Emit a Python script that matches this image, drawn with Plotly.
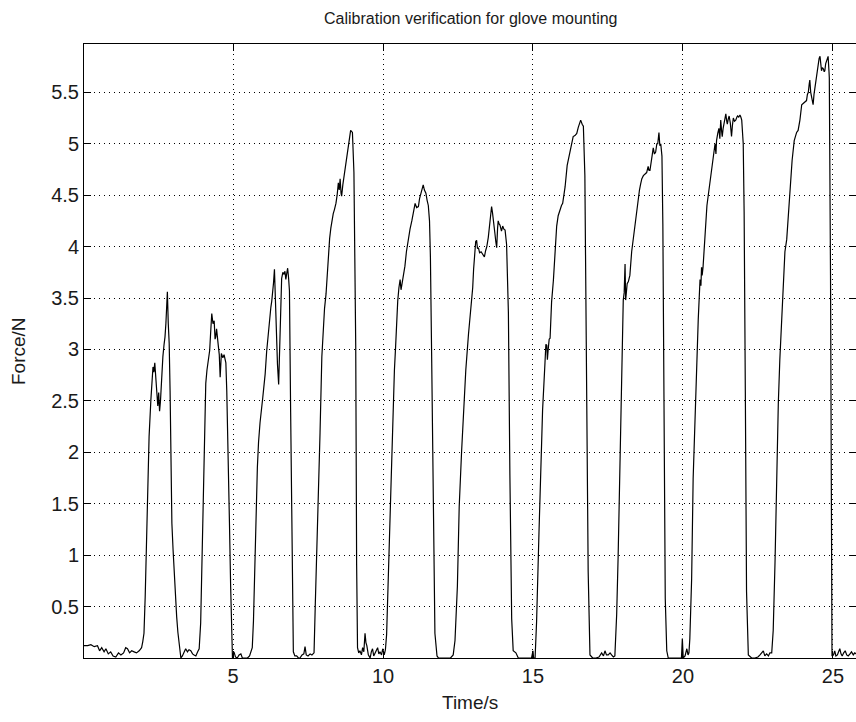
import plotly.graph_objects as go

# Time (s) and force (N)
time_s = [
    0.03, 0.15, 0.26, 0.37, 0.48, 0.55, 0.62, 0.70, 0.76, 0.84, 0.92, 1.00, 1.09, 1.18, 1.26, 1.35, 1.42, 1.48,
    1.55, 1.62, 1.70, 1.78, 1.87, 1.95, 1.99,
    2.03, 2.07, 2.11, 2.14, 2.17, 2.20, 2.26, 2.30, 2.33, 2.36, 2.39, 2.43, 2.46, 2.49, 2.52, 2.55, 2.58, 2.62,
    2.66, 2.70, 2.73, 2.76, 2.79, 2.81, 2.84, 2.87, 2.90, 2.92, 2.96, 3.00, 3.03, 3.08, 3.12, 3.16, 3.20, 3.26,
    3.31, 3.37, 3.42, 3.48, 3.53, 3.59, 3.65, 3.70, 3.76, 3.82, 3.87,
    3.92, 3.98, 4.03, 4.06, 4.09, 4.13, 4.17, 4.22, 4.25, 4.29, 4.33, 4.37, 4.40, 4.42, 4.45, 4.48, 4.51, 4.54,
    4.57, 4.61, 4.66, 4.70, 4.76, 4.79, 4.83, 4.88, 4.92, 4.96, 4.98,
    5.03, 5.08, 5.14, 5.20, 5.26, 5.31, 5.37, 5.48, 5.55, 5.59, 5.64,
    5.68, 5.73, 5.77, 5.81, 5.85, 5.90, 5.99, 6.07, 6.12, 6.18, 6.22, 6.26, 6.29, 6.32, 6.35, 6.38, 6.40, 6.42,
    6.45, 6.48, 6.52, 6.54, 6.57, 6.60, 6.62, 6.66, 6.70, 6.73, 6.76, 6.79, 6.82, 6.85, 6.88, 6.92, 6.98, 7.01,
    7.06, 7.12, 7.18, 7.23, 7.30, 7.36, 7.40, 7.44, 7.50, 7.57, 7.63, 7.70,
    7.74, 7.79, 7.85, 7.90, 7.96, 8.01, 8.05, 8.10, 8.14, 8.18, 8.22, 8.26, 8.30, 8.34, 8.38, 8.43, 8.47, 8.51,
    8.54, 8.57, 8.60, 8.62, 8.66, 8.70, 8.74, 8.77, 8.82, 8.85, 8.88, 8.92, 8.95, 8.98, 9.03, 9.06, 9.09, 9.12, 9.15,
    9.19, 9.23, 9.28, 9.32, 9.36, 9.40, 9.43, 9.46, 9.51, 9.57, 9.61, 9.65, 9.69, 9.73, 9.78, 9.82, 9.86, 9.90,
    9.95, 9.99, 10.04, 10.08,
    10.12, 10.18, 10.23, 10.29, 10.34, 10.38, 10.42, 10.46, 10.49, 10.53, 10.57, 10.60, 10.64, 10.68, 10.73,
    10.78, 10.84, 10.90, 10.96, 11.02, 11.07, 11.12, 11.18, 11.22, 11.26, 11.30, 11.34, 11.38, 11.43, 11.47,
    11.51, 11.55, 11.58, 11.62, 11.68, 11.73, 11.80, 11.85,
    11.95, 12.10, 12.25, 12.34,
    12.40, 12.48, 12.54, 12.62, 12.68, 12.76, 12.85, 12.92, 12.95, 12.99, 13.02, 13.05, 13.09, 13.12, 13.15,
    13.18, 13.22, 13.27, 13.32, 13.38, 13.42, 13.46, 13.51, 13.55, 13.57, 13.62, 13.65, 13.68, 13.71, 13.73,
    13.76, 13.79, 13.82, 13.84, 13.87, 13.90, 13.95, 13.99, 14.03, 14.07, 14.12, 14.18, 14.23, 14.29, 14.34,
    14.38, 14.43, 14.51,
    14.65, 14.80, 14.95, 15.00, 15.02, 15.07,
    15.12, 15.20, 15.26, 15.32, 15.40, 15.43, 15.46, 15.48, 15.51, 15.54, 15.57, 15.62, 15.68, 15.73, 15.79,
    15.84, 15.90, 15.95, 15.99, 16.03, 16.07, 16.14, 16.23, 16.28, 16.34, 16.40, 16.46, 16.51, 16.55, 16.59,
    16.64, 16.68, 16.73, 16.79, 16.84, 16.90, 16.99,
    17.10, 17.20, 17.29, 17.35, 17.40, 17.45, 17.51, 17.57, 17.62, 17.68, 17.73,
    17.79, 17.84, 17.90, 17.96, 18.01, 18.04, 18.07, 18.09, 18.11, 18.14, 18.18, 18.23, 18.29, 18.33, 18.37,
    18.43, 18.47, 18.51, 18.55, 18.59, 18.63, 18.68, 18.74, 18.79, 18.84, 18.87, 18.90, 18.96, 19.01, 19.05,
    19.09, 19.13, 19.16, 19.20, 19.23, 19.26, 19.30, 19.33, 19.37, 19.41, 19.46, 19.51,
    19.65, 19.80, 19.95, 19.98, 20.01, 20.07, 20.13, 20.17, 20.20,
    20.23, 20.29, 20.34, 20.40, 20.46, 20.51, 20.57, 20.60, 20.62, 20.64, 20.67, 20.70, 20.74, 20.77, 20.80,
    20.84, 20.88, 20.92, 20.96, 21.01, 21.04, 21.07, 21.10, 21.12, 21.16, 21.20, 21.23, 21.26, 21.29, 21.31,
    21.34, 21.37, 21.40, 21.43, 21.46, 21.48, 21.51, 21.54, 21.58, 21.62, 21.65, 21.68, 21.72, 21.76, 21.80,
    21.82, 21.86, 21.90, 21.93, 21.96, 22.01, 22.04, 22.08, 22.12, 22.18, 22.29,
    22.40, 22.50, 22.57, 22.62, 22.68, 22.73, 22.79, 22.85, 22.90, 22.96,
    23.01, 23.07, 23.12, 23.18, 23.23, 23.29, 23.34, 23.40, 23.46, 23.51, 23.57, 23.64, 23.71, 23.75, 23.79,
    23.84, 23.90, 23.96, 24.03, 24.08, 24.12, 24.15, 24.18, 24.21, 24.23, 24.26, 24.29, 24.32, 24.34, 24.37,
    24.40, 24.43, 24.46, 24.49, 24.51, 24.54, 24.57, 24.60, 24.62, 24.65, 24.68, 24.71, 24.73, 24.76, 24.79,
    24.82, 24.84, 24.87, 24.88, 24.92, 24.94, 24.97,
    25.02, 25.06, 25.10, 25.15, 25.19, 25.23, 25.27, 25.31, 25.36, 25.41, 25.46, 25.51, 25.57, 25.62, 25.68,
    25.73, 25.78,
]

force_n = [
    0.12, 0.12, 0.13, 0.11, 0.12, 0.07, 0.10, 0.06, 0.09, 0.04, 0.06, 0.02, 0.01, 0.05, 0.03, 0.05, 0.10, 0.09,
    0.05, 0.07, 0.06, 0.05, 0.07, 0.10, 0.16,
    0.24, 0.59, 1.05, 1.60, 1.90, 2.15, 2.51, 2.72, 2.83, 2.78, 2.87, 2.70, 2.55, 2.45, 2.58, 2.40, 2.50, 2.75,
    2.93, 3.05, 3.12, 3.25, 3.42, 3.56, 3.25, 3.06, 2.60, 2.15, 1.31, 1.05, 0.85, 0.62, 0.40, 0.25, 0.14, 0.00,
    0.02, 0.07, 0.09, 0.06, 0.08, 0.07, 0.04, 0.03, 0.02, 0.06, 0.09,
    0.34, 1.21, 1.96, 2.40, 2.67, 2.80, 2.90, 2.99, 3.15, 3.35, 3.25, 3.28, 3.10, 3.12, 3.20, 3.14, 3.03, 2.95,
    2.73, 2.96, 2.92, 2.95, 2.87, 2.60, 1.86, 1.31, 0.69, 0.07, 0.00,
    0.06, 0.01, 0.00, 0.03, 0.04, 0.00, 0.00, 0.00, 0.02, 0.05, 0.10,
    0.36, 1.01, 1.45, 1.85, 2.10, 2.29, 2.53, 2.76, 2.98, 3.20, 3.32, 3.41, 3.47, 3.54, 3.65, 3.78, 3.55, 3.34,
    3.15, 2.86, 2.66, 2.90, 3.20, 3.50, 3.69, 3.75, 3.73, 3.76, 3.68, 3.74, 3.79, 3.70, 3.57, 2.39, 0.74, 0.06,
    0.02, 0.02, 0.00, 0.00, 0.03, 0.04, 0.11, 0.03, 0.02, 0.04, 0.03, 0.05,
    0.50, 1.01, 1.51, 2.19, 2.93, 3.24, 3.40, 3.54, 3.75, 3.95, 4.08, 4.18, 4.26, 4.32, 4.36, 4.42, 4.50, 4.62,
    4.55, 4.66, 4.52, 4.49, 4.60, 4.69, 4.75, 4.82, 4.96, 5.02, 5.09, 5.13, 5.12, 5.11, 4.72, 3.90, 3.03, 0.91, 0.10,
    0.05, 0.07, 0.03, 0.10, 0.06, 0.24, 0.15, 0.12, 0.03, 0.00, 0.06, 0.09, 0.02, 0.05, 0.08, 0.10, 0.04, 0.06,
    0.03, 0.09, 0.03, 0.08,
    0.23, 0.84, 1.41, 2.02, 2.53, 2.80, 3.03, 3.30, 3.47, 3.60, 3.68, 3.58, 3.64, 3.72, 3.81,
    3.95, 4.08, 4.17, 4.25, 4.35, 4.42, 4.38, 4.39, 4.47, 4.52, 4.56, 4.60, 4.55, 4.52, 4.45,
    4.40, 4.25, 3.90, 2.97, 1.36, 0.24, 0.02, 0.00,
    0.00, 0.00, 0.00, 0.03,
    0.17, 0.70, 1.47, 2.01, 2.34, 2.80, 3.15, 3.39, 3.45, 3.60, 3.78, 3.95, 4.05, 4.06, 3.98,
    3.99, 3.94, 3.95, 3.92, 3.90, 3.96, 4.00, 4.09, 4.22, 4.30, 4.39, 4.33, 4.27, 4.20, 4.13,
    4.05, 3.99, 4.18, 4.25, 4.22, 4.21, 4.15, 4.20, 4.17, 4.16, 4.02, 3.36, 1.78, 0.38, 0.07,
    0.06, 0.05, 0.00,
    0.00, 0.00, 0.00, 0.07, 0.00, 0.00,
    0.35, 1.22, 1.75, 2.41, 2.87, 3.05, 3.04, 2.90, 3.01, 3.10, 3.11, 3.46, 3.67, 3.95, 4.20,
    4.30, 4.37, 4.40, 4.42, 4.50, 4.58, 4.79, 4.93, 5.00, 5.07, 5.08, 5.10, 5.16, 5.20, 5.23,
    5.19, 5.17, 4.69, 2.97, 0.84, 0.03, 0.00,
    0.00, 0.01, 0.05, 0.02, 0.07, 0.03, 0.03, 0.05, 0.03, 0.01, 0.02,
    0.42, 1.00, 1.93, 2.79, 3.48, 3.55, 3.83, 3.48, 3.58, 3.64, 3.66, 3.72, 3.95, 4.05, 4.14,
    4.26, 4.35, 4.45, 4.55, 4.61, 4.66, 4.69, 4.71, 4.72, 4.78, 4.74, 4.74, 4.84, 4.96, 4.90,
    4.92, 5.00, 5.00, 5.11, 4.98, 5.00, 4.88, 4.22, 1.97, 0.58, 0.07, 0.00,
    0.00, 0.00, 0.00, 0.19, 0.00, 0.02, 0.09, 0.03, 0.05,
    0.19, 0.77, 1.74, 2.32, 2.90, 3.29, 3.68, 3.62, 3.80, 3.72, 3.80, 3.95, 4.10, 4.30, 4.40,
    4.49, 4.58, 4.69, 4.78, 4.84, 4.96, 5.00, 4.90, 5.03, 5.10, 5.15, 5.05, 5.23, 5.12, 5.07,
    5.15, 5.19, 5.25, 5.29, 5.22, 5.19, 5.24, 5.27, 5.20, 5.07, 5.18, 5.25, 5.22, 5.23, 5.26,
    5.27, 5.26, 5.28, 5.26, 5.23, 5.00, 4.34, 2.59, 0.65, 0.03, 0.00,
    0.00, 0.01, 0.03, 0.05, 0.07, 0.02, 0.04, 0.02, 0.05, 0.05,
    0.27, 0.93, 1.74, 2.48, 2.90, 3.29, 3.68, 3.95, 4.07, 4.30, 4.57, 4.84, 5.03, 5.08, 5.11,
    5.13, 5.23, 5.38, 5.40, 5.41, 5.42, 5.48, 5.50, 5.58, 5.62, 5.50, 5.46, 5.42, 5.38, 5.48,
    5.54, 5.60, 5.66, 5.75, 5.81, 5.83, 5.85, 5.76, 5.71, 5.74, 5.73, 5.70, 5.71, 5.78, 5.81,
    5.84, 5.85, 5.70, 5.64, 3.72, 0.97, 0.02,
    0.03, 0.07, 0.02, 0.03, 0.06, 0.09, 0.04, 0.02, 0.05, 0.07, 0.03, 0.02, 0.04, 0.06, 0.03,
    0.05, 0.04,
]

x_ticks = [5, 10, 15, 20, 25]
y_ticks = [0.5, 1, 1.5, 2, 2.5, 3, 3.5, 4, 4.5, 5, 5.5]
y_tick_labels = ["0.5", "1", "1.5", "2", "2.5", "3", "3.5", "4", "4.5", "5", "5.5"]

title_text = "Calibration verification for glove mounting"
x_label = "Time/s"
y_label = "Force/N"

FONT = "Liberation Sans, Arial, sans-serif"
TXT = "#1a1a1a"

fig = go.Figure()
fig.add_trace(go.Scatter(
    x=time_s, y=force_n, mode="lines",
    line=dict(color="black", width=1.2),
    showlegend=False, hoverinfo="skip",
))

axis_common = dict(
    showline=True, linecolor="black", linewidth=1,
    ticks="inside", ticklen=7, tickcolor="black", tickwidth=1,
    mirror="ticks",
    showgrid=True, gridcolor="black", gridwidth=1, griddash="1px,4px",
    zeroline=False,
    tickfont=dict(family=FONT, size=20, color=TXT),
)

fig.update_layout(
    width=856, height=722,
    margin=dict(l=84, r=0, t=44, b=64),
    paper_bgcolor="white", plot_bgcolor="white",
    xaxis=dict(range=[0.03, 25.77], tickvals=x_ticks, ticktext=[str(v) for v in x_ticks], **axis_common),
    yaxis=dict(range=[0, 5.97], tickvals=y_ticks, ticktext=y_tick_labels, **axis_common),
    annotations=[
        dict(text=title_text, x=0.5, y=18, xref="paper", yref="paper", showarrow=False,
             font=dict(family=FONT, size=16, color=TXT)),
        dict(text=x_label, x=0.5, xref="paper", y=0, yref="paper", yshift=-44, showarrow=False,
             xanchor="center", yanchor="middle", font=dict(family=FONT, size=19, color=TXT)),
        dict(text=y_label, x=0, xref="paper", xshift=-66, y=0.5, yref="paper", showarrow=False,
             textangle=-90, xanchor="center", yanchor="middle", font=dict(family=FONT, size=19, color=TXT)),
    ],
)
# place title in pixel terms via yshift from top of plot area
fig.layout.annotations[0].update(y=1, yanchor="middle", yshift=26)

fig.write_html("out.html")
